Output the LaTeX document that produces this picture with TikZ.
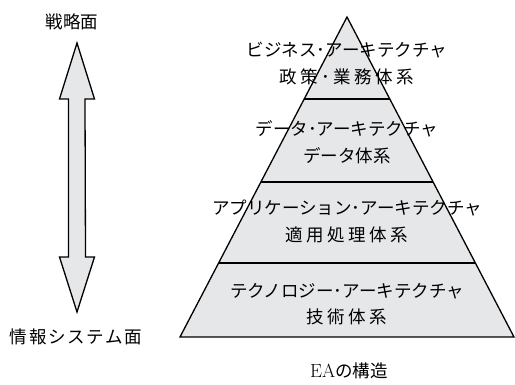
\documentclass[tikz,border=0pt]{standalone}
\usepackage{fontspec}
\newfontfamily\jp{Noto Sans CJK JP}
\newfontfamily\jpwide[LetterSpace=20]{Noto Sans CJK JP}
\newfontfamily\jpmid[LetterSpace=10]{Noto Sans CJK JP}
\usetikzlibrary{calc}
\definecolor{layergray}{HTML}{E6E7E8}
\tikzset{
  lbl/.style={font=\jp\fontsize{17.5}{19}\selectfont, inner sep=0pt, anchor=center},
  lblw/.style={font=\jpwide\fontsize{17.5}{19}\selectfont, inner sep=0pt, anchor=center},
  lblm/.style={font=\jpmid\fontsize{17.5}{19}\selectfont, inner sep=0pt, anchor=center},
  shape line/.style={draw=black, line width=1.3pt, line join=miter},
}
\begin{document}
\begin{tikzpicture}[x=1pt,y=-1pt]
\useasboundingbox (0,0) rectangle (515,385);
% pyramid
\coordinate (A) at (347,17);
\coordinate (BL) at (180,337);
\coordinate (BR) at (514,337);
\fill[layergray] (A) -- (BL) -- (BR) -- cycle;
\foreach \t/\n in {0.256/1,0.516/2,0.769/3}{
  \draw[shape line] ($(A)!\t!(BL)$) coordinate (L\n) -- ($(A)!\t!(BR)$) coordinate (R\n);
}
\draw[shape line] (A) -- (BL) -- (BR) -- cycle;
% layer texts
\node[lbl]  (b1) at (347,50) {ビジネス･アーキテクチャ};
\node[lblw] (b2) at (347,77) {政策･業務体系};
\node[lbl]  (d1) at (347,129) {データ･アーキテクチャ};
\node[lbl]  (d2) at (347,156) {データ体系};
\node[lbl]  (a1) at (347,208) {アプリケーション･アーキテクチャ};
\node[lblw] (a2) at (347,235) {適用処理体系};
\node[lbl]  (t1) at (347,291) {テクノロジー･アーキテクチャ};
\node[lblw] (t2) at (347,317) {技術体系};
\node[inner sep=0pt, font=\fontsize{19}{20}\selectfont] (ea) at (349,371) {EA{\jp\fontsize{17.5}{19}\selectfont の構造}};
% left arrow
\node[lbl] (top) at (72,22) {戦略面};
\node[lblm] (bot) at (76,337) {情報システム面};
\coordinate (tipT) at (77,43);
\coordinate (tipB) at (77,312);
\draw[shape line, fill=layergray]
  (tipT) -- ++(17.5,56) -- ++(-9.5,0) -- (85.5,257) -- ++(9,0) -- (tipB)
  -- (59.5,257) -- ++(9,0) -- (68.5,99) -- ++(-9,0) -- cycle;
\end{tikzpicture}
\end{document}
